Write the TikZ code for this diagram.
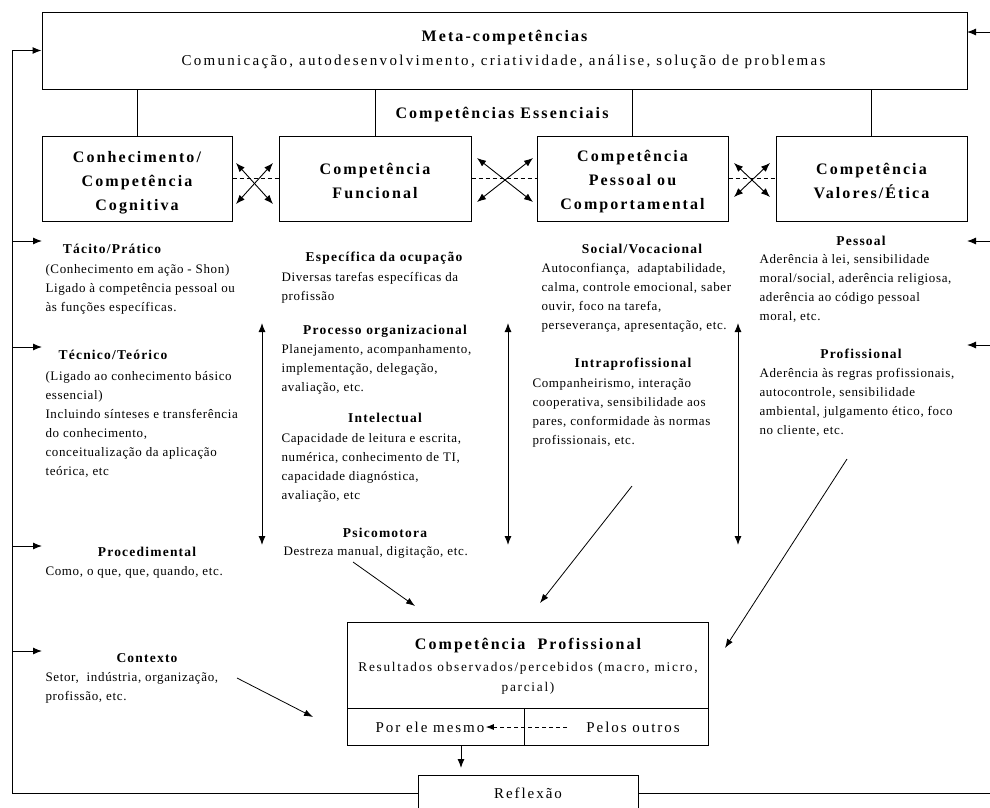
\documentclass[tikz,border=0pt]{standalone}
\usepackage{fontspec}
\setmainfont{Liberation Serif}
\newfontfamily\boxfont[LetterSpace=13]{Liberation Serif}
\newfontfamily\metafont[LetterSpace=15.3]{Liberation Serif}
\newfontfamily\headfont[LetterSpace=9]{Liberation Serif}
\newfontfamily\bodyfont[LetterSpace=5]{Liberation Serif}
\usetikzlibrary{arrows.meta}
\begin{document}
\begin{tikzpicture}[x=1pt,y=-1pt, line width=1pt, >={Latex[length=9pt,width=7pt]},
  box/.style={draw, line width=1pt, inner sep=0pt, align=center},
  btxt/.style={font=\boxfont\bfseries\fontsize{16}{24}\selectfont, align=center, inner sep=0pt},
  head/.style={font=\headfont\bfseries\fontsize{13.5}{19}\selectfont, inner sep=0pt, anchor=base},
  body/.style={font=\bodyfont\fontsize{13}{19}\selectfont, align=left, inner sep=0pt, anchor=base west},
  conn/.style={line width=1pt},
  diag/.style={line width=0.8pt, -{Latex[length=9pt,width=6.5pt]}},
  dashln/.style={line width=0.8pt, dash pattern=on 4pt off 3pt},
]
\useasboundingbox (0,0) rectangle (990,807);

% Meta box
\node[box, minimum width=925pt, minimum height=77pt] (meta) at (504.5,50.5) {};
\node[font=\boxfont\bfseries\fontsize{16}{24}\selectfont, inner sep=0pt] (metaT) at (504.5,38) {Meta-competências};
\node[font=\metafont\fontsize{15}{24}\selectfont, inner sep=0pt] (metaS) at (503.5,62) {Comunicação, autodesenvolvimento, criatividade, análise, solução de problemas};

\node[btxt] (essenciais) at (502,115) {Competências Essenciais};

% Essential boxes
\node[box, minimum width=190pt, minimum height=85pt] (b1) at (137,178.5) {};
\node[box, minimum width=192pt, minimum height=85pt] (b2) at (375,178.5) {};
\node[box, minimum width=191pt, minimum height=85pt] (b3) at (632.5,178.5) {};
\node[box, minimum width=191pt, minimum height=85pt] (b4) at (871.5,178.5) {};
\node[btxt] (b1t) at (137,182.5) {Conhecimento/\\Competência\\Cognitiva};
\node[btxt] (b2t) at (375,180.5) {Competência\\Funcional};
\node[btxt] (b3t) at (632.5,181.5) {Competência\\Pessoal ou\\Comportamental};
\node[btxt] (b4t) at (871.5,180.5) {Competência\\Valores/Ética};

\foreach \b in {b1,b2,b3,b4} \draw[conn] (\b.north) -- (\b.north |- meta.south);

% dashed links and crossing arrows
\draw[dashln] (b1.east) -- (b2.west);
\draw[dashln] (b2.east) -- (b3.west);
\draw[dashln] (b3.east) -- (b4.west);
\coordinate (x1a) at (236,163); \coordinate (x1b) at (273,204);
\coordinate (x1c) at (236,204); \coordinate (x1d) at (273,163);
\coordinate (x2a) at (477,158); \coordinate (x2b) at (533,202);
\coordinate (x2c) at (477,202); \coordinate (x2d) at (533,158);
\coordinate (x3a) at (734,163); \coordinate (x3b) at (770,197);
\coordinate (x3c) at (734,197); \coordinate (x3d) at (770,163);
\draw[<->, line width=0.9pt] (x1a) -- (x1b); \draw[<->, line width=0.9pt] (x1c) -- (x1d);
\draw[<->, line width=0.9pt] (x2a) -- (x2b); \draw[<->, line width=0.9pt] (x2c) -- (x2d);
\draw[<->, line width=0.9pt] (x3a) -- (x3b); \draw[<->, line width=0.9pt] (x3c) -- (x3d);

% Column 1 (body anchors sit on the baseline of the last line)
\node[head] (tacH) at (112,253.5) {Tácito/Prático};
\node[body] (tacB) at (45,311.5) {(Conhecimento em ação - Shon)\\Ligado à competência pessoal ou\\às funções específicas.};
\node[head] (tecH) at (113,359.5) {Técnico/Teórico};
\node[body] (tecB) at (45,475.5) {(Ligado ao conhecimento básico\\essencial)\\Incluindo sínteses e transferência\\do conhecimento,\\conceitualização da aplicação\\teórica, etc};
\node[head] (proH) at (147,556.5) {Procedimental};
\node[body] (proB) at (45,575.5) {Como, o que, que, quando, etc.};
\node[head] (ctxH) at (147,662.5) {Contexto};
\node[body] (ctxB) at (45,700.5) {Setor,~ indústria, organização,\\profissão, etc.};

% Column 2
\node[head] (espH) at (384,261.5) {Específica da ocupação};
\node[body] (espB) at (281,300.5) {Diversas tarefas específicas da\\profissão};
\node[head] (orgH) at (385,334.5) {Processo organizacional};
\node[body] (orgB) at (281,391.5) {Planejamento, acompanhamento,\\implementação, delegação,\\avaliação, etc.};
\node[head] (intH) at (385,422.5) {Intelectual};
\node[body] (intB) at (281,499.5) {Capacidade de leitura e escrita,\\numérica, conhecimento de TI,\\capacidade diagnóstica,\\avaliação, etc};
\node[head] (psiH) at (385,537.5) {Psicomotora};
\node[body] (psiB) at (283,555.5) {Destreza manual, digitação, etc.};

% Column 3
\node[head] (socH) at (642,253.5) {Social/Vocacional};
\node[body] (socB) at (541,329.5) {Autoconfiança,~ adaptabilidade,\\calma, controle emocional, saber\\ouvir, foco na tarefa,\\perseverança, apresentação, etc.};
\node[head] (itrH) at (633,367.5) {Intraprofissional};
\node[body] (itrB) at (532,444.5) {Companheirismo, interação\\cooperativa, sensibilidade aos\\pares, conformidade às normas\\profissionais, etc.};

% Column 4
\node[head] (pesH) at (861,245.5) {Pessoal};
\node[body] (pesB) at (759,320.5) {Aderência à lei, sensibilidade\\moral/social, aderência religiosa,\\aderência ao código pessoal\\moral, etc.};
\node[head] (prfH) at (861,358.5) {Profissional};
\node[body] (prfB) at (759,434.5) {Aderência às regras profissionais,\\autocontrole, sensibilidade\\ambiental, julgamento ético, foco\\no cliente, etc.};

% Vertical double arrows
\coordinate (v1t) at (262,323); \coordinate (v1b) at (262,545);
\coordinate (v2t) at (508,323); \coordinate (v2b) at (508,545);
\coordinate (v3t) at (738,323); \coordinate (v3b) at (738,545);
\draw[<->] (v1t) -- (v1b);
\draw[<->] (v2t) -- (v2b);
\draw[<->] (v3t) -- (v3b);

% Competência Profissional box
\node[box, minimum width=361pt, minimum height=123pt] (cp) at (527.5,683.5) {};
\node[btxt] (cpT) at (528,646) {Competência~~Profissional};
\node[font=\boxfont\fontsize{13.3}{20}\selectfont, align=center, inner sep=0pt] (cpS) at (528,678) {Resultados observados/percebidos (macro, micro,\\parcial)};
\coordinate (dvL) at (347,708); \coordinate (dvR) at (708,708);
\coordinate (dvT) at (524,708); \coordinate (dvB) at (524,745);
\draw[conn] (dvL) -- (dvR);
\draw[conn] (dvT) -- (dvB);
\node[font=\boxfont\fontsize{15}{18}\selectfont, inner sep=1pt] (self) at (430,727) {Por ele mesmo};
\node[font=\boxfont\fontsize{15}{18}\selectfont, inner sep=1pt] (others) at (633,727) {Pelos outros};
\coordinate (dsh) at (567,727);
\draw[dashln, -{Latex[length=8pt,width=6pt]}] (dsh) -- (self.east);

% Diagonal arrows
\coordinate (d1s) at (353,562); \coordinate (d1e) at (415,606);
\coordinate (d2s) at (237,678); \coordinate (d2e) at (313,717);
\coordinate (d3s) at (632,486); \coordinate (d3e) at (540,603);
\coordinate (d4s) at (847,459); \coordinate (d4e) at (725,648);
\draw[diag] (d1s) -- (d1e);
\draw[diag] (d2s) -- (d2e);
\draw[diag] (d3s) -- (d3e);
\draw[diag] (d4s) -- (d4e);

% Reflexao
\node[box, minimum width=220pt, minimum height=36pt, font=\boxfont\fontsize{15}{18}\selectfont] (reflexao) at (528,793) {Reflexão};
\coordinate (dn1) at (461,745); \coordinate (dn2) at (461,768);
\draw[->] (dn1) -- (dn2);

% Feedback loop
\coordinate (lc) at (12,793);
\coordinate (rc) at (990,793);
\draw[conn, ->] (reflexao.west) -- (lc) |- (meta.west);
\draw[conn] (reflexao.east) -- (rc);
\coordinate (la1s) at (12,241); \coordinate (la1e) at (42,241);
\coordinate (la2s) at (12,347); \coordinate (la2e) at (42,347);
\coordinate (la3s) at (12,546); \coordinate (la3e) at (42,546);
\coordinate (la4s) at (12,651); \coordinate (la4e) at (42,651);
\draw[->] (la1s) -- (la1e);
\draw[->] (la2s) -- (la2e);
\draw[->] (la3s) -- (la3e);
\draw[->] (la4s) -- (la4e);
\coordinate (ra0s) at (990,32); \coordinate (ra0e) at (967,32);
\coordinate (ra1s) at (990,241); \coordinate (ra1e) at (967,241);
\coordinate (ra2s) at (990,345); \coordinate (ra2e) at (967,345);
\draw[->] (ra0s) -- (ra0e);
\draw[->] (ra1s) -- (ra1e);
\draw[->] (ra2s) -- (ra2e);
\end{tikzpicture}
\end{document}
